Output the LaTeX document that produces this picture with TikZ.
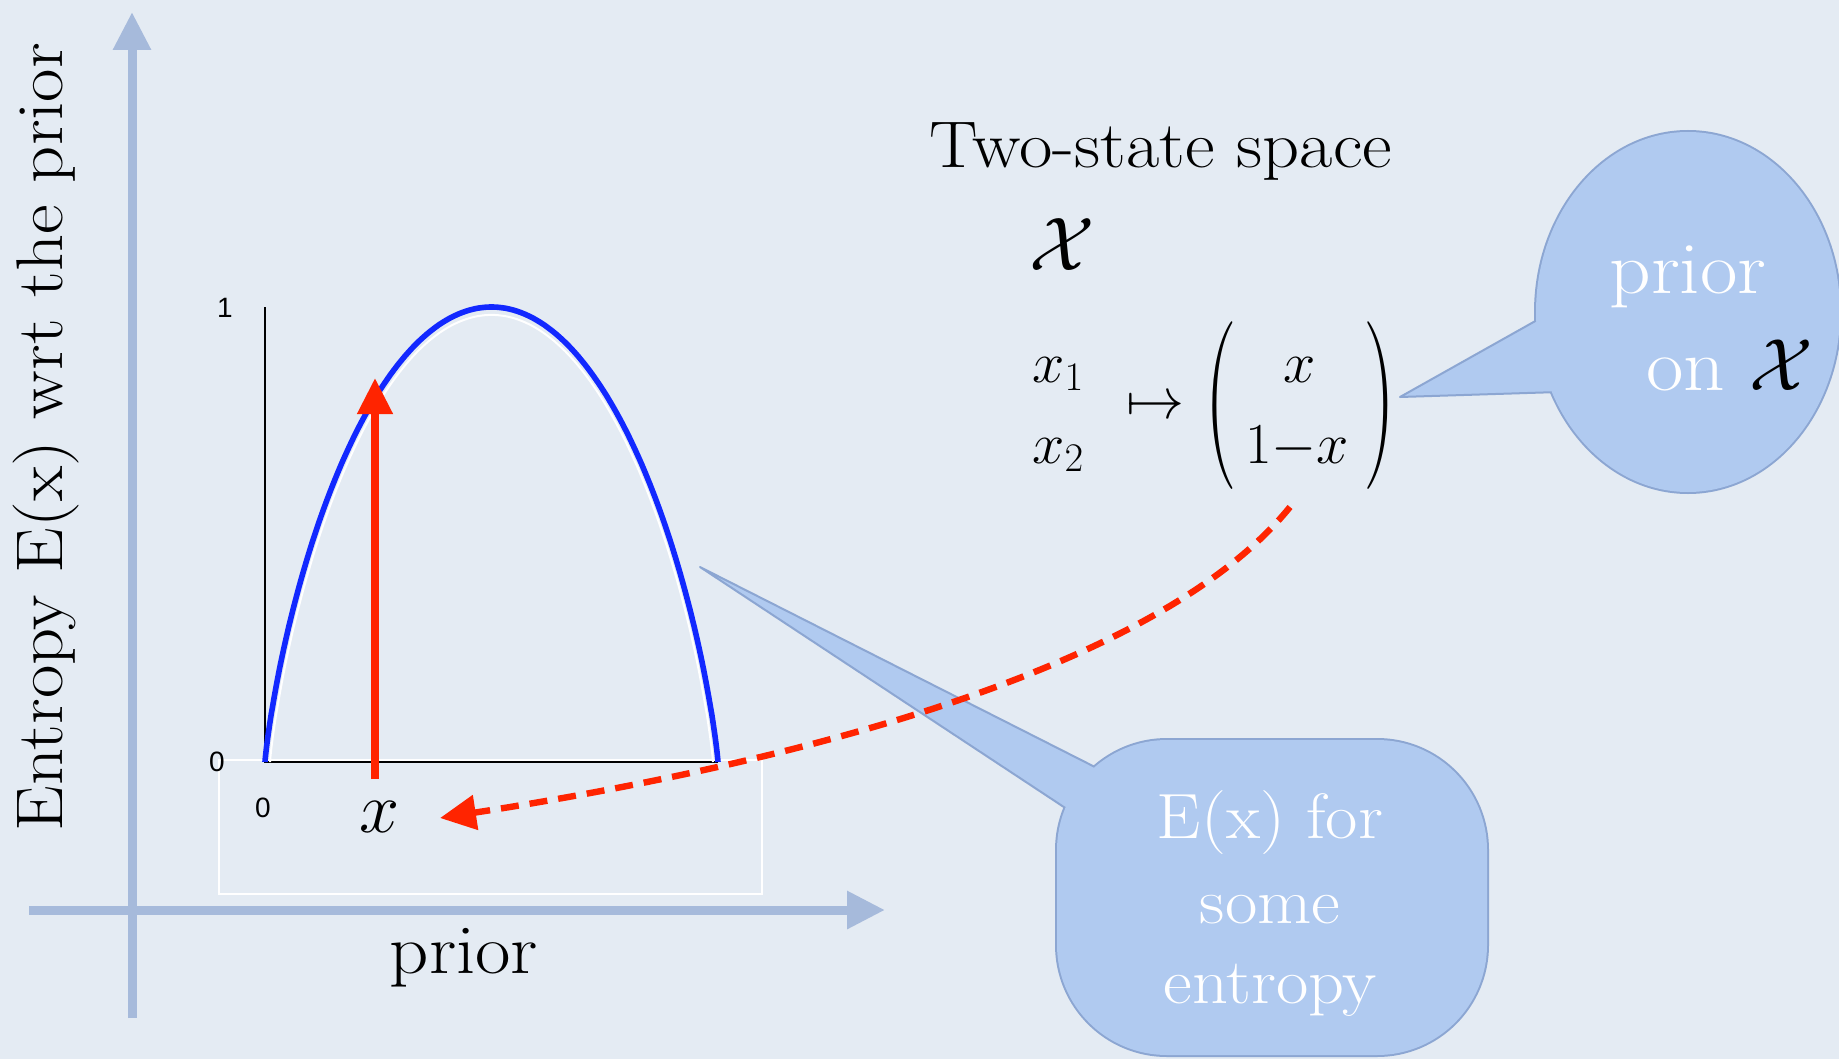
\RequirePackage{fix-cm}
\documentclass[tikz,border=0pt]{standalone}
\usepackage{fontspec}
\usepackage{graphicx}
\setmainfont{Latin Modern Roman}[FakeStretch=1.1]
\newfontfamily\helv{Liberation Sans}
\usetikzlibrary{arrows.meta}
\definecolor{bg}{RGB}{228,235,243}
\definecolor{axisblue}{RGB}{166,186,219}
\definecolor{callfill}{RGB}{176,202,240}
\definecolor{callline}{RGB}{140,166,210}
\definecolor{myred}{RGB}{255,36,0}
\definecolor{myblue}{RGB}{18,40,255}
\newcommand{\myfs}[2]{\fontsize{#1}{#2}\selectfont}
\begin{document}
\begin{tikzpicture}[x=0.5pt,y=-0.5pt,
  bigaxis/.style={draw=axisblue, line width=4.5pt, -{Triangle[length=19pt,width=18pt]}},
  lbl/.style={inner sep=0pt, text=black},
  wlbl/.style={inner sep=0pt, text=white},
  calloutbody/.style={fill=callfill, draw=callline, line width=2pt},
  callouttail/.style={fill=callfill, draw=callline, line width=1pt, line join=round},
  redarrow/.style={draw=myred, line width=3.8pt, -{Triangle[length=18pt,width=17pt]}},
  reddash/.style={draw=myred, line width=3.2pt, dash pattern=on 9pt off 5.5pt, -{Triangle[length=18pt,width=17pt]}},
  smalllbl/.style={inner sep=0pt, font={\helv\myfs{14}{16}}},
  paren/.style={inner sep=0pt, text=black}
]
\fill[bg] (0,0) rectangle (1839,1059);
\useasboundingbox (0,0) rectangle (1839,1059);

% big axes
\coordinate (yaxB) at (132,1018);
\coordinate (yaxT) at (132,12);
\coordinate (xaxL) at (29,910);
\coordinate (xaxR) at (885,910);
\draw[bigaxis] (yaxB) -- (yaxT);
\draw[bigaxis] (xaxL) -- (xaxR);

% white frame
\draw[white, line width=1.2pt] (219,760) rectangle (762,894);

% plot axes
\draw[black, line width=0.6pt] (265,307) -- (265,762) -- (718,762);

% entropy curve
\draw[white, line width=1pt] (270,762) -- plot[domain=0.5:179.5, samples=180, variable=\t]
  ({270+443*(sin(\t/2))^2}, {762+1290*((sin(\t/2))^2*ln(sin(\t/2))+(cos(\t/2))^2*ln(cos(\t/2)))}) -- (713,762);
\draw[myblue, line width=2.8pt] (265,762) -- plot[domain=0.5:179.5, samples=180, variable=\t]
  ({265+453*(sin(\t/2))^2}, {762+1312.8*((sin(\t/2))^2*ln(sin(\t/2))+(cos(\t/2))^2*ln(cos(\t/2)))}) -- (718,762);

% red vertical arrow
\coordinate (ra1) at (375,779);
\coordinate (ra2) at (375,378);
\draw[redarrow] (ra1) -- (ra2);

% callout 2
\draw[calloutbody, rounded corners=55pt] (1057,740) rectangle (1487,1055);
\draw[callouttail] (1166,803) -- (700,567) -- (1129,850);
\fill[callfill, rounded corners=55pt] (1057,740) rectangle (1487,1055);

% dashed arrow
\coordinate (ds) at (1290,507);
\coordinate (de) at (440,818);
\draw[reddash] (ds) .. controls (1150,680) and (750,770) .. (de);

% callout 1
\draw[calloutbody] (1688,312) ellipse[x radius=76pt, y radius=90pt];
\draw[callouttail] (1571,301) -- (1400,397) -- (1591,391);
\fill[callfill] (1688,312) ellipse[x radius=76pt, y radius=90pt];

% texts
\node[lbl, anchor=base, rotate=90, font=\myfs{33}{38}] (ylab) at (62,437) {Entropy E(x) wrt the prior};
\node[lbl, anchor=base, font=\myfs{35}{40}] (xlab) at (464,973) {prior};
\node[lbl, anchor=base, font=\myfs{33}{40}] (title) at (1161,168) {Two-state space};
\node[lbl, font=\myfs{38}{44}] (calX) at (1062,245) {$\mathcal{X}$};
\node[lbl, anchor=base west, font=\myfs{29}{32}] (x1) at (1032,382) {$x_1$};
\node[lbl, anchor=base west, font=\myfs{29}{32}] (x2) at (1032,463) {$x_2$};
\node[lbl, font=\myfs{29}{32}] (mto) at (1155,408) {$\mapsto$};
\node[paren] (lpar) at (1221,406) {\scalebox{1}[2.0]{\myfs{42}{42}(}};
\node[paren] (rpar) at (1380,406) {\scalebox{1}[2.0]{\myfs{42}{42})}};
\node[lbl, anchor=base, font=\myfs{29}{32}] (v1) at (1300,382) {$x$};
\node[lbl, anchor=base, font=\myfs{29}{32}] (v2) at (1297,463) {$1{-}x$};
\node[lbl, font=\myfs{36}{40}] (xvar) at (380,817) {$x$};

\node[smalllbl] (one) at (225,308) {1};
\node[smalllbl] (zeroy) at (217,762) {0};
\node[smalllbl] (zerox) at (263,808) {0};

\node[wlbl, anchor=base, font=\myfs{37}{40}] (c1a) at (1688,293) {prior};
\node[wlbl, anchor=base, font=\myfs{37}{40}] (c1b) at (1730,390) {on {\color{black}$\mathcal{X}$}};

\node[wlbl, anchor=base, font=\myfs{32}{40}] (c2a) at (1270,838) {E(x) for};
\node[wlbl, anchor=base, font=\myfs{32}{40}] (c2b) at (1270,923) {some};
\node[wlbl, anchor=base, font=\myfs{32}{40}] (c2c) at (1270,1003) {entropy};
\end{tikzpicture}
\end{document}
